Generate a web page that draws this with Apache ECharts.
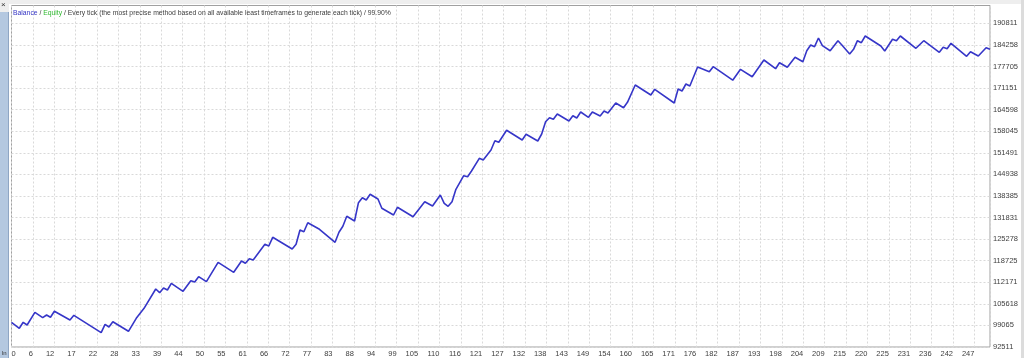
<!DOCTYPE html>
<html>
<head>
<meta charset="utf-8">
<script src="https://cdn.jsdelivr.net/npm/echarts@6/dist/echarts.min.js"></script>
<style>
html,body{margin:0;padding:0;background:#ffffff;}
#chart{width:1024px;height:358px;}
</style>
</head>
<body>
<div id="chart"></div>
<script>
// ---- data (trade number, balance) ----
const tradeIdx = [0,2,3,4,6,8,9,10,11,15,16,23,24,25,26,30,32,34,37,38,39,40,41,44,46,47,48,50,53,57,59,60,61,62,65,66,67,72,73,74,75,76,79,83,84,85,86,88,89,90,91,92,94,95,98,99,103,106,108,110,111,112,113,114,116,117,118,120,121,123,124,125,127,131,132,135,136,137,138,139,140,143,144,145,146,148,149,151,152,153,155,157,158,160,164,165,170,171,172,173,174,176,179,180,185,187,190,193,196,197,199,201,203,204,205,206,207,208,210,212,213,215,216,217,218,219,223,224,226,227,228,232,234,238,239,240,241,245,246,248,250,251];
const balance = [100000,98190,100012,99192,103049,101409,102229,101531,103353,100711,102138,96854,99405,98585,100195,97279,101227,104264,110126,109002,110429,109822,111857,109427,112646,112252,113861,112343,118234,115197,118629,117931,119328,118933,123701,123185,125827,122274,123701,128044,127528,130261,128256,124308,127345,129168,132205,130777,136335,137853,137155,138886,137459,134634,132599,134938,132083,136639,135333,138673,136153,135242,136639,140404,144535,144231,145962,149819,149303,152340,155164,154678,158323,155377,157108,155073,157199,160935,162149,161663,163273,161147,162757,162058,163881,162271,163881,162666,164184,163577,166614,165186,166826,172080,169043,170774,166614,170866,170258,172384,171777,177547,176120,177638,173538,176848,174601,179673,177031,178853,177456,180493,179157,182497,184228,183712,186354,184016,182497,185534,184228,181495,182922,185534,184927,186962,183925,182406,185959,185534,186962,183226,185534,182011,183530,183105,184745,180797,182193,180888,183408,182922];

const xTickLabels = [0,6,12,17,22,28,33,39,44,50,55,61,66,72,77,83,88,94,99,105,110,116,121,127,132,138,143,149,154,160,165,171,176,182,187,193,198,204,209,215,220,225,231,236,242,247];
const yTickLabels = [92511,99065,105618,112171,118725,125278,131831,138385,144938,151491,158045,164598,171151,177705,184258,190811];

const xMax = 251;
const yMin = 92511;
const yMax = 196225;
const xStep = xTickLabels[xTickLabels.length-1] / (xTickLabels.length-1);

const seriesData = tradeIdx.map((t,i)=>[t, balance[i]]);

const FONT = 'Liberation Sans';
const TFS = 6.8;
const chart = echarts.init(document.getElementById('chart'), null, {renderer:'canvas'});
chart.setOption({
  animation:false,
  backgroundColor:'#ffffff',
  textStyle:{fontFamily:FONT},
  grid:{left:11.5,right:34,top:5.5,bottom:11,show:true,borderColor:'#a0a0a0',borderWidth:1,backgroundColor:'#ffffff'},
  title:{
    left:13, top:9.5, padding:0,
    text:'{b|Balance}{s| / }{g|Equity}{s| / Every tick (the most precise method based on all available least timeframes to generate each tick) / 99.90%}',
    textStyle:{
      fontSize:TFS, fontWeight:'normal', fontFamily:FONT,
      rich:{
        b:{color:'#3434c4',fontSize:TFS,fontFamily:FONT},
        g:{color:'#30b830',fontSize:TFS,fontFamily:FONT},
        s:{color:'#404040',fontSize:TFS,fontFamily:FONT}
      }
    }
  },
  xAxis:{
    type:'value', min:0, max:xMax, interval:xStep,
    axisLine:{show:false}, axisTick:{show:false},
    splitLine:{show:true,lineStyle:{color:'#d9d9d9',width:1,type:[2,2]}},
    axisLabel:{
      show:true, margin:3, fontSize:7.5, color:'#404040', fontFamily:FONT,
      align:'right', alignMinLabel:'left', showMaxLabel:false,
      formatter:function(v){
        const k = Math.round(v/xStep);
        if (Math.abs(k*xStep - v) > 0.01 || k >= xTickLabels.length) return '';
        return String(xTickLabels[k]);
      }
    }
  },
  yAxis:{
    type:'value', position:'right', min:yMin, max:yMax,
    axisLine:{show:false}, axisTick:{show:false, customValues:yTickLabels},
    splitLine:{show:true,lineStyle:{color:'#d9d9d9',width:1,type:[2,2]}},
    axisLabel:{
      show:true, customValues:yTickLabels, margin:3, fontSize:7.5, color:'#404040', fontFamily:FONT,
      formatter:function(v){ return String(Math.round(v)); }
    }
  },
  series:[{
    type:'line', data:seriesData, showSymbol:false, symbol:'none',
    lineStyle:{color:'#3636c8',width:1.6}, z:5
  }],
  graphic:[
    {type:'rect', left:0, top:0, shape:{width:1024,height:4}, style:{fill:'#eeeeee'}, silent:true},
    {type:'rect', left:0, top:0, shape:{width:9,height:12}, style:{fill:'#eeeeee'}, silent:true},
    {type:'rect', left:0, top:12, shape:{width:8,height:346}, style:{fill:'#b4c8e0'}, silent:true},
    {type:'line', shape:{x1:8.5,y1:12,x2:8.5,y2:358}, style:{stroke:'#8fa6c4',lineWidth:1}, silent:true},
    {type:'rect', left:1021, top:0, shape:{width:3,height:358}, style:{fill:'#dcdcdc'}, silent:true},
    {type:'text', left:1, top:1, style:{text:'×', fontSize:8, fill:'#333333', fontFamily:FONT}, silent:true},
    {type:'text', left:2, top:350, style:{text:'ln', fontSize:6, fill:'#333333', fontFamily:FONT}, silent:true}
  ]
});
</script>
</body>
</html>
